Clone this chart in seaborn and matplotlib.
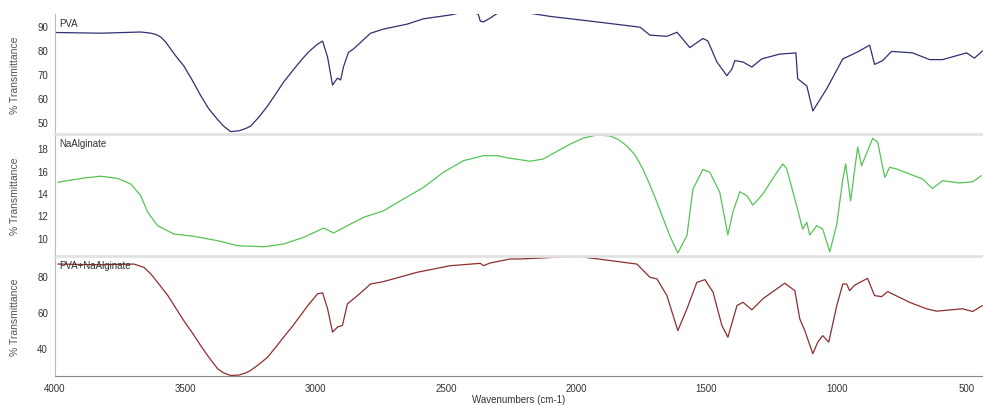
import numpy as np
import pandas as pd
import matplotlib
matplotlib.use("Agg")
import matplotlib.pyplot as plt
from matplotlib.ticker import MultipleLocator
import seaborn as sns

# ---- data (wavenumber cm-1, %T) ----
pva_wn = [4000, 3824, 3671, 3632, 3613, 3594, 3575, 3556, 3533, 3506, 3471, 3441, 3410, 3376,
          3353, 3326, 3295, 3268, 3249, 3218, 3184, 3153, 3123, 3088, 3058, 3027,
          2992, 2973, 2954, 2935, 2916, 2904, 2893, 2874, 2855, 2789, 2740, 2648, 2586, 2483,
          2425, 2376, 2368, 2356, 2330, 2318, 2291, 2188, 2100, 1920, 1755, 1717, 1652, 1613,
          1564, 1514, 1495, 1460, 1422, 1403, 1391, 1360, 1326, 1288, 1219, 1157, 1150, 1115,
          1092, 1039, 977, 924, 874, 855, 824, 790, 709, 644, 594, 502, 472, 441]
pva_t = [87.3, 87.0, 87.5, 87.0, 86.5, 85.4, 83.3, 80.4, 77.0, 73.4, 67.0, 61.0, 55.5, 51.0,
         48.3, 46.0, 46.3, 47.3, 48.3, 52.0, 56.7, 61.7, 66.6, 71.4, 75.4, 79.2,
         82.5, 83.7, 77.0, 65.4, 68.3, 67.5, 73.0, 79.0, 80.4, 87.0, 88.7, 90.8, 93.0, 94.6,
         96.0, 95.0, 92.0, 91.7, 93.3, 94.2, 96.0, 95.5, 94.0, 91.7, 89.5, 86.2, 85.7, 87.4,
         81.0, 84.8, 83.8, 75.0, 69.3, 72.0, 75.6, 75.0, 72.9, 76.3, 78.3, 78.8, 68.0, 65.0,
         54.6, 63.8, 76.3, 79.0, 82.0, 74.0, 75.6, 79.4, 78.8, 76.0, 76.0, 78.8, 76.6, 79.6]

alg_wn = [3989, 3889, 3824, 3759, 3709, 3671, 3644, 3606, 3544, 3467, 3376, 3299, 3199, 3123,
          3046, 2969, 2931, 2866, 2816, 2739, 2674, 2586, 2510, 2433, 2356, 2303, 2253, 2215,
          2176, 2127, 2023, 1974, 1920, 1870, 1839, 1805, 1774, 1744, 1717, 1690, 1641, 1610,
          1575, 1552, 1514, 1487,
          1449, 1418, 1399, 1372, 1345, 1322, 1284, 1230, 1207, 1192, 1154, 1131, 1115, 1104,
          1077, 1054, 1027, 1000, 977, 966, 947, 920, 905, 862, 843, 816, 797, 771, 721, 671,
          633, 594, 529, 479, 445]
alg_t = [14.96, 15.34, 15.50, 15.30, 14.80, 13.76, 12.27, 11.07, 10.33, 10.12, 9.73, 9.28, 9.19,
         9.43, 10.03, 10.86, 10.42, 11.22, 11.82, 12.41, 13.31, 14.50, 15.85, 16.89, 17.34,
         17.34, 17.10, 16.98, 16.84, 17.04, 18.38, 18.90, 19.20, 19.10, 18.80, 18.20, 17.40,
         16.15, 14.70, 13.16, 10.18, 8.63,
         10.20, 14.35, 16.10, 15.85, 14.06, 10.24, 12.27, 14.11, 13.76, 12.92, 13.90,
         15.85, 16.60, 16.15, 12.86, 10.77, 11.37, 10.24, 11.07, 10.77, 8.74, 11.20, 15.25,
         16.60, 13.30, 18.10, 16.44, 18.90, 18.54, 15.40, 16.30, 16.15, 15.70, 15.25, 14.40,
         15.10, 14.90, 15.00, 15.55]

mix_wn = [3989, 3824, 3697, 3659, 3632, 3602, 3567, 3536, 3506, 3471, 3441, 3410, 3376, 3353,
          3326, 3295, 3268, 3249, 3218, 3184, 3153, 3123, 3088, 3058, 3027,
          2992, 2973, 2954, 2935, 2916, 2897, 2878, 2839, 2789, 2740, 2609, 2483, 2368, 2356,
          2330, 2253, 2215, 1996, 1767, 1717, 1690, 1652, 1610, 1575, 1537, 1506, 1475, 1441,
          1418, 1383, 1360, 1326, 1284, 1245, 1200, 1161, 1142, 1123, 1092, 1073, 1054, 1031,
          1000, 977, 962, 951, 931, 882, 855, 828, 805, 721, 656, 617, 518, 479, 441]
mix_t = [86.4, 86.0, 86.4, 84.6, 80.9, 75.5, 69.0, 62.0, 55.2, 48.0, 41.4, 35.0, 28.6, 26.3,
         24.9, 25.1, 26.3, 27.7, 31.0, 35.0, 40.5, 46.0, 52.2, 58.0, 64.0,
         70.0, 70.5, 61.7, 48.8, 51.6, 52.5, 64.4, 69.0, 75.4, 76.7, 81.9, 85.5, 86.8, 85.5,
         87.0, 89.2, 89.2, 90.7, 86.4, 79.1, 78.2, 69.0, 49.7, 61.7, 76.3, 77.8, 70.9, 52.5,
         46.0, 63.5, 65.3, 61.1, 67.2, 71.2, 75.8, 71.7, 56.1, 49.7, 36.9, 43.3, 46.9, 43.3,
         63.5, 75.4, 75.4, 71.7, 74.8, 78.5, 69.0, 68.4, 71.2, 65.3, 61.7, 60.4, 61.7, 60.2, 63.5]

names = ["PVA", "NaAlginate", "PVA+NaAlginate"]
colors = ["#2e3170", "#55c455", "#8e2f2f"]
ylims = [(45, 95), (8.36, 19.28), (24.6, 90.85)]
yticks = [[50, 60, 70, 80, 90], [10, 12, 14, 16, 18], [40, 60, 80]]
yminor = [2, 0.5, 5]

sns.set_style("white")
plt.rcParams["font.family"] = ["Liberation Sans", "DejaVu Sans"]

W, H = 983, 406
fig = plt.figure(figsize=(W / 100, H / 100), dpi=100)
bounds = [(15, 135), (135, 257), (257, 377)]
left = 55 / W
axes = []
for i, (t, b) in enumerate(bounds):
    ax = fig.add_axes([left, 1 - b / H, 1 - left, (b - t) / H])
    axes.append(ax)

series = [(pva_wn, pva_t), (alg_wn, alg_t), (mix_wn, mix_t)]
for i, ax in enumerate(axes):
    wn, tt = series[i]
    df = pd.DataFrame({"wn": wn, "T": tt})
    sns.lineplot(data=df, x="wn", y="T", ax=ax, color=colors[i], lw=0.9, sort=False)
    ax.set_xlim(4000, 439)
    ax.set_ylim(*ylims[i])
    ax.set_yticks(yticks[i])
    ax.yaxis.set_minor_locator(MultipleLocator(yminor[i]))
    ax.tick_params(axis="y", which="major", length=3, width=0.8, color="#888888",
                   labelsize=7, labelcolor="#333333", pad=2)
    ax.tick_params(axis="y", which="minor", length=1.5, width=0.6, color="#aaaaaa")
    ax.set_ylabel("% Transmittance", fontsize=7.5, color="#555555")
    ax.text(0.005, 0.97, names[i], transform=ax.transAxes, fontsize=7,
            color="#333333", va="top", ha="left")
    for s in ["right", "bottom", "top"]:
        ax.spines[s].set_visible(False)
    ax.spines["left"].set_color("#bbbbbb")
    ax.spines["left"].set_linewidth(0.8)
    if i > 0:
        ax.spines["top"].set_visible(True)
        ax.spines["top"].set_color("#e2e2e2")
        ax.spines["top"].set_linewidth(2)
    ax.grid(False)
    if i < 2:
        ax.set_xticks([])
        ax.set_xlabel("")
    else:
        ax.spines["bottom"].set_visible(True)
        ax.spines["bottom"].set_color("#888888")
        ax.spines["bottom"].set_linewidth(0.8)
        ax.set_xticks([4000, 3500, 3000, 2500, 2000, 1500, 1000, 500])
        ax.xaxis.set_minor_locator(MultipleLocator(100))
        ax.tick_params(axis="x", which="major", direction="inout", length=4, width=0.8,
                       color="#777777", labelsize=7, labelcolor="#333333", pad=3)
        ax.tick_params(axis="x", which="minor", direction="inout", length=2.5, width=0.7,
                       color="#777777")
        ax.set_xlabel("Wavenumbers (cm-1)", fontsize=7, color="#333333", labelpad=1)
    ax.yaxis.set_label_coords(-0.038, 0.5)

fig.savefig("out.png", dpi=100)
